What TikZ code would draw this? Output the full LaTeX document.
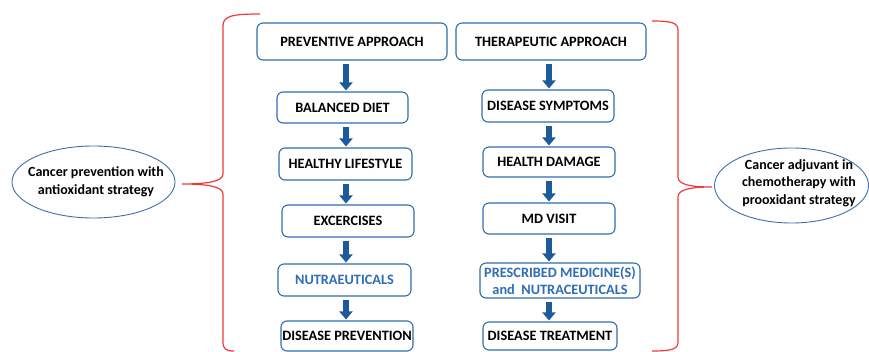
\documentclass[tikz,border=0pt]{standalone}
\usepackage{fontspec}
\setmainfont{Carlito}
\usetikzlibrary{arrows.meta,shapes.geometric}
\definecolor{boxblue}{HTML}{2E6DAE}
\definecolor{arrblue}{HTML}{1D5A9B}
\definecolor{txtblue}{HTML}{2F6DB5}
\definecolor{ellblue}{HTML}{3F6FA8}
\definecolor{bracered}{HTML}{F03A3A}
\tikzset{
  box/.style={draw=boxblue,line width=1.1pt,rounded corners=6pt,fill=white,
    font=\fontsize{14.3}{17}\selectfont\bfseries,align=center,inner sep=0pt},
  oval/.style={ellipse,draw=ellblue,line width=0.9pt,inner sep=0pt},
  ovaltext/.style={font=\fontsize{14}{17.5}\selectfont\bfseries,align=center,inner sep=0pt},
  arr/.style={draw=arrblue,line width=6pt,-{Triangle[width=13pt,length=8pt]},
    shorten <=3pt,shorten >=1pt},
  brace/.style={draw=bracered,line width=1.2pt}
}
\begin{document}
\begin{tikzpicture}[x=1pt,y=-1pt]
\useasboundingbox (0,0) rectangle (869,352);
% left column
\node[box,minimum width=190,minimum height=37] (L0) at (352,41.5) {PREVENTIVE APPROACH};
\node[box,minimum width=131,minimum height=31] (L1) at (342.5,107.5) {BALANCED DIET};
\node[box,minimum width=133,minimum height=32] (L2) at (345.5,164) {HEALTHY LIFESTYLE};
\node[box,minimum width=132,minimum height=32] (L3) at (348,221) {EXCERCISES};
\node[box,minimum width=133,minimum height=32,text=txtblue] (L4) at (344.5,280) {NUTRAEUTICALS};
\node[box,minimum width=132,minimum height=30] (L5) at (347,336) {DISEASE PREVENTION};
% right column
\node[box,minimum width=190,minimum height=37] (R0) at (551,41.5) {THERAPEUTIC APPROACH};
\node[box,minimum width=132,minimum height=32] (R1) at (548,106) {DISEASE SYMPTOMS};
\node[box,minimum width=132,minimum height=30] (R2) at (549,162) {HEALTH DAMAGE};
\node[box,minimum width=132,minimum height=31] (R3) at (549,218.5) {MD VISIT};
\node[box,minimum width=160,minimum height=35,text=txtblue] (R4) at (560,280.5) {PRESCRIBED MEDICINE(S)\\and\ \ NUTRACEUTICALS};
\node[box,minimum width=134,minimum height=28] (R5) at (550,336) {DISEASE TREATMENT};
% arrow axes
\coordinate (aL) at (346,0);
\coordinate (aR) at (549,0);
\foreach \a/\b in {L0/L1,L1/L2,L2/L3,L3/L4,L4/L5}{
  \draw[arr] (\a.south -| aL) -- (\b.north -| aL);
}
\foreach \a/\b in {R0/R1,R1/R2,R2/R3,R3/R4,R4/R5}{
  \draw[arr] (\a.south -| aR) -- (\b.north -| aR);
}
% ellipses
\node[oval,minimum width=163,minimum height=72] (EL) at (93.5,182) {};
\node[ovaltext] (ELt) at (96,182) {Cancer prevention with\\antioxidant strategy};
\node[oval,minimum width=154,minimum height=75] (ER) at (791.5,185.5) {};
\node[ovaltext] (ERt) at (799,183) {Cancer adjuvant in\\chemotherapy with\\prooxidant strategy};
% braces
\draw[brace] (260,14) .. controls (232,14) and (223,16) .. (223,26)
  -- (223,174) .. controls (223,182) and (205,184) .. (182,184)
  .. controls (205,184) and (223,186) .. (223,194)
  -- (223,342) .. controls (223,349) and (226,351) .. (234,351);
\draw[brace] (652,21) .. controls (672,21) and (678,23) .. (678,30)
  -- (678,177) .. controls (678,185) and (692,187) .. (712,187)
  .. controls (692,187) and (678,189) .. (678,197)
  -- (678,342) .. controls (678,349) and (672,351) .. (652,351);
\end{tikzpicture}
\end{document}
